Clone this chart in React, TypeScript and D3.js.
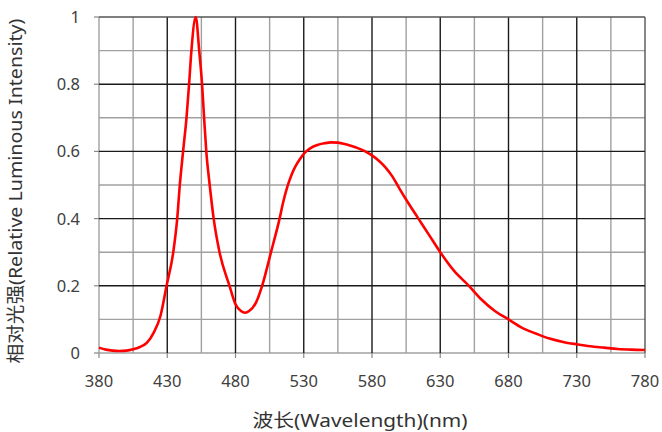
import React, { useEffect, useRef } from 'react';
import * as d3 from 'd3';

// spectrum
const wavelengths = [
  380, 385, 390, 395, 400, 405, 410, 415, 420, 425, 429.5, 434.4, 437.3, 439.2, 441.6, 444.1, 446, 447.7, 450.9,
  453.4, 455.5, 457, 458.6, 461.1, 464, 468.3, 475.6, 480, 484, 487, 490, 495, 499.5, 506, 512.3, 515, 518,
  521, 524, 527, 531, 535, 540, 545, 550, 555, 560, 565, 570, 575, 580, 585, 590, 595, 600, 606, 614, 622, 630, 640,
  651, 660, 670, 680, 690, 700, 710, 720, 730, 740, 750, 760, 770, 780,
];
const intensity = [
  0.016, 0.01, 0.007, 0.006, 0.007, 0.011, 0.018, 0.03, 0.06, 0.11, 0.2, 0.3, 0.4, 0.5, 0.6, 0.7, 0.8, 0.9, 1.0,
  0.9, 0.8, 0.7, 0.6, 0.5, 0.4, 0.3, 0.2, 0.145, 0.125, 0.12, 0.125, 0.15, 0.2, 0.3, 0.4, 0.45, 0.495,
  0.53, 0.556, 0.576, 0.597, 0.61, 0.619, 0.624, 0.627, 0.626, 0.622, 0.616, 0.609, 0.6, 0.588, 0.572, 0.552, 0.525, 0.49,
  0.45, 0.4, 0.35, 0.3, 0.245, 0.2, 0.16, 0.125, 0.1, 0.075, 0.058, 0.043, 0.033, 0.026, 0.02, 0.016, 0.012, 0.01, 0.009,
];
const xTicks = [380, 430, 480, 530, 580, 630, 680, 730, 780];
const yTicks = [0, 0.2, 0.4, 0.6, 0.8, 1];
const xGrid = d3.range(380, 781, 25);
const yGrid = d3.range(0, 1.001, 0.1);

const W = 662;
const H = 432;
const FONT = '"Noto Sans", "Noto Sans CJK SC", sans-serif';

const App: React.FC = () => {
  const svgRef = useRef<SVGSVGElement>(null);

  useEffect(() => {
    if (!svgRef.current) return;
    const svg = d3.select(svgRef.current);
    svg.selectAll('*').remove();

    const x = d3.scaleLinear().domain([380, 780]).range([99, 645]);
    const y = d3.scaleLinear().domain([0, 1]).range([353, 17]);

    // grid, minor first then major on top
    const isMajorX = (v: number) => (v - 380) % 50 === 0 && v !== 380;
    const isMajorY = (v: number) => Math.round(v * 10) % 2 === 0 && Math.round(v * 10) !== 0;

    svg.append('g')
      .selectAll('line')
      .data(xGrid.filter(v => !isMajorX(v)))
      .enter()
      .append('line')
      .attr('x1', d => x(d)).attr('x2', d => x(d))
      .attr('y1', y(0)).attr('y2', y(1))
      .style('stroke', '#a0a0a0')
      .style('stroke-width', '1.4px');

    svg.append('g')
      .selectAll('line')
      .data(yGrid.filter(v => !isMajorY(v)))
      .enter()
      .append('line')
      .attr('x1', x(380)).attr('x2', x(780))
      .attr('y1', d => y(d)).attr('y2', d => y(d))
      .style('stroke', '#a0a0a0')
      .style('stroke-width', '1.4px');

    svg.append('g')
      .selectAll('line')
      .data(xGrid.filter(isMajorX))
      .enter()
      .append('line')
      .attr('x1', d => x(d)).attr('x2', d => x(d))
      .attr('y1', y(0)).attr('y2', y(1))
      .style('stroke', d => (d === 780 ? '#555' : '#1a1a1a'))
      .style('stroke-width', '1.4px');

    svg.append('g')
      .selectAll('line')
      .data(yGrid.filter(isMajorY))
      .enter()
      .append('line')
      .attr('x1', x(380)).attr('x2', x(780))
      .attr('y1', d => y(d)).attr('y2', d => y(d))
      .style('stroke', d => (d > 0.95 ? '#555' : '#1a1a1a'))
      .style('stroke-width', '1.4px');

    // x ticks
    svg.append('g')
      .selectAll('line')
      .data(xTicks)
      .enter()
      .append('line')
      .attr('x1', d => x(d)).attr('x2', d => x(d))
      .attr('y1', y(0)).attr('y2', y(0) + 5)
      .style('stroke', '#888')
      .style('stroke-width', '1.2px');

    svg.append('g')
      .selectAll('text')
      .data(xTicks)
      .enter()
      .append('text')
      .attr('x', d => x(d))
      .attr('y', 387)
      .attr('text-anchor', 'middle')
      .style('font-family', FONT)
      .style('font-size', '16.5px')
      .style('fill', '#404040')
      .text(d => String(d));

    // y ticks
    svg.append('g')
      .selectAll('line')
      .data(yTicks)
      .enter()
      .append('line')
      .attr('x1', x(380) - 5).attr('x2', x(380))
      .attr('y1', d => y(d)).attr('y2', d => y(d))
      .style('stroke', '#888')
      .style('stroke-width', '1.2px');

    svg.append('g')
      .selectAll('text')
      .data(yTicks)
      .enter()
      .append('text')
      .attr('x', 80)
      .attr('y', d => y(d))
      .attr('dy', '0.36em')
      .attr('text-anchor', 'end')
      .style('font-family', FONT)
      .style('font-size', '16.5px')
      .style('fill', '#404040')
      .text(d => String(d));

    // spectrum curve
    const points: [number, number][] = wavelengths.map((w, i) => [w, intensity[i]]);
    const line = d3.line<[number, number]>()
      .x(d => x(d[0]))
      .y(d => y(d[1]))
      .curve(d3.curveMonotoneX);

    svg.append('path')
      .datum(points)
      .attr('d', line)
      .style('fill', 'none')
      .style('stroke', '#ff0000')
      .style('stroke-width', '2.6px')
      .style('stroke-linejoin', 'round');

    // axis titles
    svg.append('text')
      .attr('x', 360)
      .attr('y', 427)
      .attr('text-anchor', 'middle')
      .attr('textLength', 215)
      .attr('lengthAdjust', 'spacingAndGlyphs')
      .style('font-family', FONT)
      .style('font-size', '18px')
      .style('fill', '#333')
      .text('波长(Wavelength)(nm)');

    svg.append('text')
      .attr('transform', 'translate(22,191) rotate(-90)')
      .attr('text-anchor', 'middle')
      .attr('textLength', 345)
      .attr('lengthAdjust', 'spacingAndGlyphs')
      .style('font-family', FONT)
      .style('font-size', '18px')
      .style('fill', '#333')
      .text('相对光强(Relative Luminous Intensity)');
  }, []);

  return (
    <svg
      ref={svgRef}
      width={W}
      height={H}
      style={{ position: 'absolute', left: 0, top: 0, background: '#fff' }}
    />
  );
};

export default App;
